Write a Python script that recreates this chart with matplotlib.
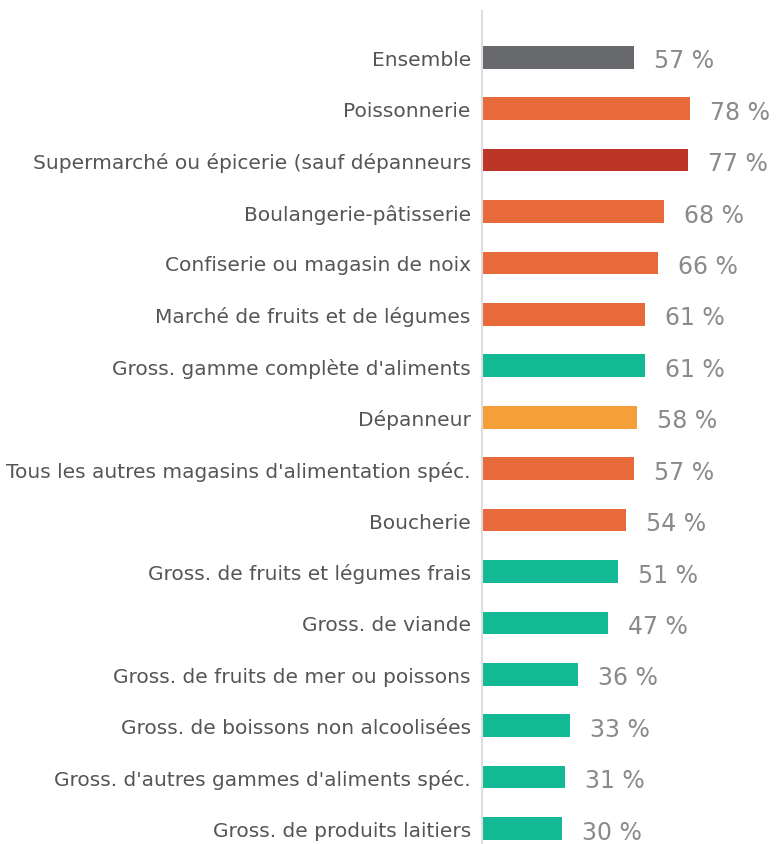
import matplotlib.pyplot as plt

# categories, top to bottom
magasins = [
    "Ensemble",
    "Poissonnerie",
    "Supermarché ou épicerie (sauf dépanneurs",
    "Boulangerie-pâtisserie",
    "Confiserie ou magasin de noix",
    "Marché de fruits et de légumes",
    "Gross. gamme complète d'aliments",
    "Dépanneur",
    "Tous les autres magasins d'alimentation spéc.",
    "Boucherie",
    "Gross. de fruits et légumes frais",
    "Gross. de viande",
    "Gross. de fruits de mer ou poissons",
    "Gross. de boissons non alcoolisées",
    "Gross. d'autres gammes d'aliments spéc.",
    "Gross. de produits laitiers",
]
pourcent = [57, 78, 77, 68, 66, 61, 61, 58, 57, 54, 51, 47, 36, 33, 31, 30]
groupe = ["ens", "det", "sup", "det", "det", "det", "gro", "dep", "det",
          "det", "gro", "gro", "gro", "gro", "gro", "gro"]

couleurs = {"ens": "#68696d", "det": "#e8693a", "sup": "#bd3526",
            "gro": "#13b894", "dep": "#f59f3a"}

fig = plt.figure(figsize=(7.76, 8.45), dpi=100)
ax = fig.add_axes([0.621, 0.0, 0.379, 0.9858])

y = list(range(len(magasins)))
ax.barh(y, pourcent, height=0.44, color=[couleurs[g] for g in groupe])

for yi, v in zip(y, pourcent):
    ax.text(v + 7.5, yi + 0.06, f"{v} %", va="center", ha="left",
            fontsize=17, color="#8a8a8a")

ax.set_yticks(y)
ax.set_yticklabels(magasins, fontsize=14.5, color="#555555")
ax.tick_params(axis="y", length=0, pad=8)
ax.set_xticks([])
ax.set_xlim(0, 110)
ax.set_ylim(15.3, -0.9)

for s in ["top", "right", "bottom"]:
    ax.spines[s].set_visible(False)
ax.spines["left"].set_color("#dddddd")
ax.spines["left"].set_linewidth(1.5)

fig.savefig("out.png", dpi=100)
